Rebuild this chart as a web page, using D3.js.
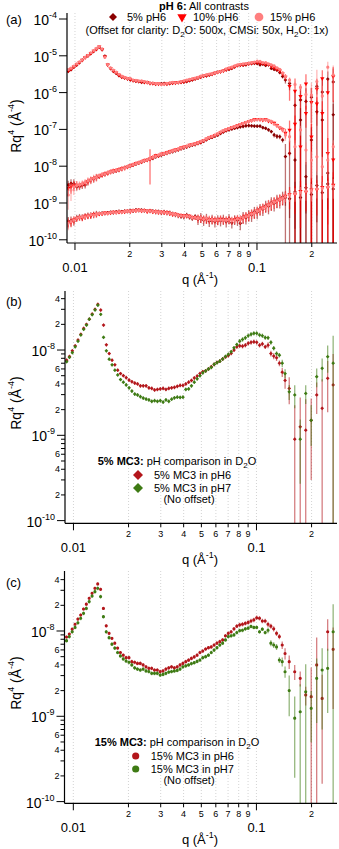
<!DOCTYPE html>
<html>
<head>
<meta charset="utf-8">
<script src="https://cdn.jsdelivr.net/npm/d3@7"></script>
<style>
  body { margin: 0; background: #fff; }
  svg { display: block; }
  text { font-family: "Liberation Sans", Arial, sans-serif; fill: #000; }
</style>
</head>
<body>
<div id="chart"></div>
<script>
// q grid (1/A), shared by every series
var q = [0.00918,0.00951,0.00986,0.01022,0.01059,0.01097,0.01137,0.01178,0.01221,0.01266,
 0.01312,0.01359,0.01409,0.01460,0.01513,0.01568,0.01625,0.01684,0.01745,0.01808,
 0.01874,0.01942,0.02013,0.02086,0.02162,0.02240,0.02322,0.02406,0.02494,0.02584,
 0.02678,0.02775,0.02876,0.02981,0.03089,0.03201,0.03318,0.03438,0.03563,0.03693,
 0.03827,0.03966,0.04110,0.04259,0.04414,0.04574,0.04741,0.04913,0.05091,0.05276,
 0.05468,0.05667,0.05873,0.06086,0.06307,0.06536,0.06774,0.07020,0.07275,0.07539,
 0.07813,0.08097,0.08391,0.08696,0.09012,0.09339,0.09678,0.10030,0.10394,0.10772,
 0.11163,0.11569,0.11989,0.12424,0.12876,0.13344,0.13829,0.14330,0.1510,0.1618,
 0.1734,0.1858,0.1991,0.2133,0.2285,0.2449,0.2624];

// D2O contrast, Rq^4 in units of 1e-9
var d2o5pH6 = [7.6,8.4,9.8,11.2,13.1,15.3,18.0,20.0,23.0,26.4,
 30.0,34.4,29.4,19.6,11.5,9.1,7.6,6.7,5.8,5.3,
 5.0,4.74,4.45,4.25,4.1,4.0,3.8,3.8,3.8,3.6,
 3.55,3.4,3.45,3.5,3.55,3.45,3.55,3.6,3.65,3.75,
 3.85,3.85,4.0,4.2,4.4,4.7,4.95,5.3,5.57,5.7,
 6.0,6.37,6.8,7.15,7.4,7.85,8.3,8.6,9.14,10.0,
 10.9,11.2,11.1,11.4,12.0,12.3,12.5,12.3,11.4,11.8,
 10.9,11.4,9.1,8.5,8.1,7.0,5.5,4.4,3.55,0.9,
 1.26,1.15,1.5,2.97,2.07,4.66,3.9];
var d2o5pH7 = [7.3,8.2,9.3,10.9,12.7,15.0,17.5,19.6,23.0,26.0,
 29.5,33.5,26.2,14.1,9.8,7.8,6.7,5.8,5.1,4.5,
 4.2,3.9,3.6,3.3,3.05,2.97,2.84,2.73,2.66,2.6,
 2.5,2.55,2.5,2.55,2.45,2.6,2.5,2.65,2.75,2.8,
 2.78,2.8,3.45,3.5,3.8,4.2,4.6,5.0,5.4,5.7,
 6.0,6.25,6.8,7.1,7.4,7.85,8.4,8.9,9.55,10.6,
 11.6,12.7,13.3,13.9,14.7,15.3,15.7,15.7,15.0,14.7,
 14.0,13.9,12.3,10.5,9.1,8.7,7.0,5.3,3.24,2.97,
 0.9,3.1,1.5,4.87,6.1,8.35,7.0];
var d2o10pH6 = [8.0,8.8,10.1,11.6,13.4,15.3,18.0,20.3,23.6,27.0,
 30.8,35.0,30.0,19.0,11.5,9.2,7.9,6.9,6.0,5.4,
 5.1,4.8,4.6,4.3,4.2,4.1,4.0,3.9,3.8,3.6,
 3.6,3.45,3.5,3.4,3.45,3.5,3.6,3.7,3.7,3.8,
 3.9,4.0,4.2,4.4,4.6,4.8,5.1,5.4,5.7,5.9,
 6.2,6.4,6.8,7.2,7.5,7.8,8.5,9.0,9.5,10.3,
 11.1,11.5,11.6,11.9,12.4,12.8,13.1,13.4,13.0,12.6,
 12.2,11.8,10.5,9.6,8.8,7.9,6.5,5.3,3.0,2.2,
 1.6,3.5,1.1,2.5,4.8,2.0,5.5];
var d2o15pH6 = [8.5,9.2,10.5,12.0,13.8,15.4,18.1,20.6,24.2,27.7,
 31.7,35.6,30.8,18.4,11.5,9.4,8.2,7.2,6.3,5.6,
 5.2,4.87,4.87,4.37,4.3,4.17,4.17,4.0,3.8,3.65,
 3.65,3.49,3.49,3.34,3.4,3.58,3.7,3.8,3.7,3.8,
 4.0,4.17,4.37,4.55,4.77,4.97,5.2,5.6,5.83,6.15,
 6.37,6.5,6.85,7.2,7.5,7.85,8.8,9.4,9.8,10.6,
 11.4,11.8,12.0,12.3,12.6,13.1,13.5,14.3,14.1,13.1,
 13.1,12.0,11.4,10.6,9.4,8.6,6.85,5.45,4.37,3.33,
 2.79,1.78,1.7,4.0,1.62,9.8,6.1];
var d2o15pH7 = [7.7,8.6,9.8,11.0,12.5,14.1,16.1,18.4,22.1,25.7,
 28.9,31.7,25.3,14.7,9.8,8.35,7.0,6.3,5.6,5.1,
 4.7,4.45,4.3,4.0,3.7,3.58,3.49,3.58,3.4,3.35,
 3.19,3.19,3.19,3.05,3.1,3.19,3.3,3.35,3.4,3.45,
 3.58,3.8,3.9,4.0,4.15,4.25,4.4,4.57,4.87,5.0,
 5.2,5.6,5.98,6.37,6.85,7.2,7.85,8.6,8.8,9.0,
 9.6,10.1,10.2,10.6,10.8,11.3,11.0,11.0,9.8,10.5,
 9.6,10.2,7.2,6.85,6.5,4.57,4.37,3.33,2.0,0.95,
 1.13,1.94,1.24,2.79,3.49,3.65,9.8];

// relative errors of the D2O series
var errD5pH6 = [.04,.04,.04,.04,.04,.04,.04,.04,.04,.04,
 .04,.04,.04,.04,.04,.04,.04,.04,.04,.04,
 .04,.05,.05,.05,.05,.05,.05,.05,.05,.05,
 .05,.05,.05,.05,.05,.05,.05,.05,.05,.05,
 .05,.05,.05,.05,.05,.05,.05,.05,.05,.05,
 .05,.05,.05,.05,.05,.05,.05,.05,.05,.05,
 .05,.06,.06,.06,.06,.06,.06,.06,.06,.06,
 .06,.08,.08,.08,.08,.08,.12,.2,.35,1.5,
 1.2,1.3,.8,.4,1.2,.6,1.3];
var errD5pH7 = [.04,.04,.04,.04,.04,.04,.04,.04,.04,.04,
 .04,.04,.04,.04,.04,.04,.04,.04,.04,.04,
 .04,.05,.05,.05,.05,.05,.05,.05,.05,.05,
 .05,.05,.05,.05,.05,.05,.05,.05,.05,.05,
 .05,.05,.05,.05,.05,.05,.05,.05,.05,.05,
 .05,.05,.05,.05,.05,.05,.05,.05,.05,.05,
 .05,.06,.06,.06,.06,.06,.06,.06,.06,.06,
 .06,.06,.06,.06,.06,.06,.1,.12,.2,.3,
 .7,.25,.5,.25,.3,.35,1.1];
var errD10pH6 = [.05,.05,.05,.05,.05,.05,.05,.05,.05,.05,
 .05,.05,.05,.05,.05,.05,.05,.05,.05,.05,
 .05,.05,.05,.05,.05,.05,.05,.05,.05,.05,
 .05,.05,.05,.05,.05,.05,.05,.05,.05,.05,
 .05,.05,.05,.05,.05,.05,.05,.05,.05,.05,
 .05,.05,.05,.05,.05,.05,.05,.05,.05,.05,
 .05,.05,.05,.05,.05,.05,.05,.05,.05,.05,
 .06,.07,.07,.07,.07,.08,.12,.2,.6,1.2,
 1.1,.8,1.4,.9,.7,1.3,.8];
var errD15pH6 = [.04,.04,.04,.04,.04,.04,.04,.04,.04,.04,
 .04,.04,.04,.04,.04,.04,.04,.04,.04,.04,
 .04,.05,.05,.05,.05,.05,.05,.05,.05,.05,
 .05,.05,.05,.05,.05,.05,.05,.05,.05,.05,
 .05,.05,.05,.05,.05,.05,.05,.05,.05,.05,
 .05,.05,.05,.05,.05,.05,.05,.05,.05,.05,
 .05,.06,.06,.06,.06,.06,.06,.06,.06,.06,
 .06,.07,.07,.07,.07,.07,.1,.15,.18,.2,
 .2,.25,1.2,1.1,.9,.4,.8];
var errD15pH7 = [.05,.05,.05,.05,.05,.05,.05,.05,.05,.05,
 .05,.05,.05,.05,.05,.05,.05,.05,.05,.05,
 .05,.05,.05,.05,.05,.05,.05,.05,.05,.05,
 .05,.05,.05,.05,.05,.05,.05,.05,.05,.05,
 .05,.05,.05,.05,.05,.05,.05,.05,.05,.05,
 .05,.05,.05,.05,.05,.05,.05,.05,.05,.05,
 .05,.05,.05,.05,.05,.05,.05,.05,.05,.05,
 .05,.08,.08,.08,.08,.08,.12,.15,.5,.8,
 1.1,1.1,.6,.7,.8,.7,1.1];

// CMSi contrast, pH6, units of 1e-10 (before the 50x offset)
var cmsi5 = [0.62,0.68,0.68,0.55,0.56,0.6,0.62,0.75,0.84,0.9,
 1.0,1.04,1.15,1.2,1.3,1.38,1.42,1.5,1.58,1.7,
 1.82,1.94,2.0,2.15,2.3,2.45,2.6,2.8,3.0,3.1,
 3.3,3.6,3.8,4.0,4.3,4.5,4.8,5.0,5.3,5.6,
 6.0,6.3,6.7,7.1,7.5,7.8,8.3,8.8,9.5,10.5,
 11.5,12.2,13.2,14.0,15.5,17.0,18.5,19.5,20.5,21.5,
 22.5,23.5,24,25,25.5,25,24.7,24.5,24.7,22.5,
 21.4,19.5,17.4,14.1,13,12.7,10.3,3.64,4.48,2.94,
 36,1.04,10.3,60,36,1.3,50];
var cmsi10 = [0.5,0.55,0.6,0.62,0.6,0.65,0.7,0.78,0.85,0.92,
 1.0,1.08,1.15,1.25,1.3,1.42,1.5,1.55,1.62,1.72,
 1.8,1.9,2.1,2.2,2.4,2.5,2.65,2.9,2.95,3.2,
 3.5,3.9,3.9,4.3,4.4,4.7,5.0,5.3,5.6,5.8,
 6.3,6.7,7.0,7.5,7.9,8.2,8.7,9.2,10.0,11.0,
 12.0,12.8,13.8,15.0,16.8,18.2,19.5,20.8,22.5,23.5,
 25.5,27,29,31,33,35,37,38,37,36,
 37,34,32,30,26,22,20,16,19.3,28,
 6.8,55,12.7,100,55,4.5,3.0];
var cmsi15 = [0.33,0.45,0.55,0.6,0.62,0.66,0.72,0.8,0.86,0.94,
 1.0,1.1,1.2,1.22,1.35,1.4,1.45,1.55,1.6,1.7,
 1.8,1.95,2.05,2.2,2.35,2.5,2.7,2.85,3.0,3.2,
 3.5,3.7,4.0,4.2,4.4,4.6,4.9,5.2,5.5,5.9,
 6.2,6.6,7.0,7.4,7.8,8.1,8.6,9.4,10.0,11.2,
 12.2,13.0,14.1,15.2,17.0,18.5,19.8,21.0,22.5,23.7,
 25.0,27.5,29,31,33,34.5,36,37,37.6,37,
 36,35,33,28,25,22.8,19.3,14,12.7,6.8,
 19.3,5.5,2.94,3.6,1.94,2.94,6.8];
var errC5 = [.3,.3,.3,.2,.2,.2,.2,.2,.2,.2,
 .2,.12,.12,.12,.12,.12,.12,.12,.12,.12,
 .12,.12,.12,.12,.12,.12,.12,.12,.12,.12,
 .12,.12,.12,.12,.12,.12,.12,.12,.12,.12,
 .12,.12,.12,.12,.12,.12,.1,.1,.1,.1,
 .1,.1,.1,.1,.1,.1,.1,.1,.1,.1,
 .1,.1,.1,.1,.1,.1,.1,.1,.1,.1,
 .1,.1,.1,.15,.15,.15,.15,1.2,1.2,1.3,
 1.1,1.5,1.2,1.0,.9,1.5,1.0];
var errC10 = [.35,.35,.3,.25,.2,.2,.2,.2,.2,.2,
 .2,.15,.15,.15,.15,.15,.15,.15,.15,.15,
 .15,.12,.12,.12,.12,.12,.12,.12,.12,.8,
 .15,.12,.12,.12,.12,.12,.12,.12,.12,.12,
 .12,.1,.1,.1,.1,.1,.1,.1,.1,.1,
 .1,.1,.1,.1,.1,.1,.1,.1,.1,.1,
 .1,.08,.08,.08,.08,.08,.08,.08,.08,.08,
 .08,.1,.1,.1,.12,.12,.15,.3,.8,.7,
 1.0,.6,1.2,.5,1.1,1.6,1.8];
var errC15 = [.6,.5,.4,.3,.25,.25,.25,.25,.25,.25,
 .25,.15,.15,.15,.15,.15,.15,.15,.15,.15,
 .15,.12,.12,.12,.12,.12,.12,.12,.12,.12,
 .12,.12,.12,.12,.12,.12,.12,.12,.12,.12,
 .12,.1,.1,.1,.1,.1,.1,.1,.1,.1,
 .1,.1,.1,.1,.1,.1,.1,.1,.1,.1,
 .1,.08,.08,.08,.08,.08,.08,.08,.08,.08,
 .08,.1,.1,.1,.1,.1,.15,.3,.3,.5,
 .3,.6,.7,.6,.8,.7,.5];

// H2O contrast, pH6, units of 1e-10 (no offset)
var h2o5 = [3.2,3.3,3.2,4.0,4.2,4.1,4.3,4.6,4.7,4.8,
 5.1,5.2,5.3,5.2,5.4,5.6,5.5,5.7,5.9,5.8,
 6.0,5.9,6.2,6.1,6.5,6.3,6.4,6.2,6.1,6.0,
 6.0,5.7,5.8,5.5,5.7,5.4,5.4,5.1,4.8,4.5,
 4.3,4.2,4.7,4.1,3.8,4.3,3.6,4.1,3.4,3.9,
 3.2,3.7,3.1,3.6,3.3,3.7,3.1,3.8,2.9,3.6,
 3.4,2.8,4.2,4.0,4.8,4.7,5.8,5.6,7.0,6.8,
 8.5,8.2,10.2,9.8,12.0,11.8,14.5,14,13,20,
 14,26,17,30,19,33,24];
var h2o10 = [2.9,3.0,3.5,3.7,4.0,3.9,4.4,4.4,4.5,4.9,
 4.9,5.0,5.1,5.4,5.3,5.4,5.7,5.6,5.7,5.7,
 5.8,6.1,5.9,6.3,6.2,6.5,6.1,6.4,5.9,6.2,
 5.8,5.9,5.6,5.7,5.5,5.6,5.2,4.9,5.0,4.7,
 4.6,4.5,4.4,4.4,4.1,4.0,3.9,3.8,3.7,3.6,
 3.6,3.5,3.5,3.3,3.7,3.4,3.5,3.5,3.4,3.5,
 3.8,3.6,3.9,4.4,4.5,5.2,5.3,6.2,6.5,7.4,
 7.8,9.0,9.4,10.8,11.2,12.8,13.2,15.5,17,17,
 21,20,23,23,27,26,31];
var h2o15 = [2.8,3.1,3.4,3.9,4.1,4.2,4.2,4.5,4.8,4.7,
 5.0,5.2,5.2,5.3,5.2,5.5,5.6,5.5,5.8,5.6,
 5.9,6.0,6.0,6.2,6.3,6.3,6.2,6.2,6.1,6.0,
 5.9,5.8,5.7,5.6,5.6,5.4,5.3,5.1,4.9,4.6,
 4.5,4.4,4.5,4.3,4.0,4.1,3.8,4.0,3.6,3.9,
 3.5,3.6,3.4,3.5,3.5,3.5,3.4,3.6,3.3,3.4,
 3.7,3.5,4.0,4.3,4.6,5.0,5.4,6.0,6.6,7.2,
 8.0,8.8,9.6,10.5,11.5,12.5,13.5,15,16.5,18,
 19.5,21,22,24,25,27,29];
var errH5 = [.3,.3,.25,.2,.2,.2,.2,.2,.2,.2,
 .2,.12,.12,.12,.12,.12,.12,.12,.12,.12,
 .12,.12,.12,.12,.12,.12,.12,.12,.12,.12,
 .12,.15,.15,.15,.15,.15,.15,.15,.15,.15,
 .15,.15,.15,.15,.15,.15,.3,.3,.3,.3,
 .3,.3,.3,.3,.3,.3,.3,.3,.3,.3,
 .3,.35,.35,.35,.35,.35,.35,.35,.35,.35,
 .35,.4,.4,.4,.4,.4,.4,.4,.7,.9,
 1.1,.8,1.2,.9,1.0,.8,1.1];
var errH10 = [.3,.25,.25,.18,.18,.18,.18,.18,.18,.18,
 .18,.12,.12,.12,.12,.12,.12,.12,.12,.12,
 .12,.12,.12,.12,.12,.12,.12,.12,.12,.12,
 .12,.14,.14,.14,.14,.14,.14,.14,.14,.14,
 .14,.14,.14,.14,.14,.14,.25,.25,.25,.25,
 .25,.25,.25,.25,.25,.25,.25,.25,.25,.25,
 .25,.3,.3,.3,.3,.3,.3,.3,.3,.3,
 .3,.35,.35,.35,.35,.35,.35,.35,.6,.7,
 .9,.7,1.1,.8,1.0,.9,1.2];
var errH15 = [.35,.3,.25,.15,.15,.15,.15,.15,.15,.15,
 .15,.1,.1,.1,.1,.1,.1,.1,.1,.1,
 .1,.1,.1,.1,.1,.1,.1,.1,.1,.1,
 .1,.12,.12,.12,.12,.12,.12,.12,.12,.12,
 .12,.12,.12,.12,.12,.12,.2,.2,.2,.2,
 .2,.2,.2,.2,.2,.2,.2,.2,.2,.2,
 .2,.25,.25,.25,.25,.25,.25,.25,.25,.25,
 .25,.3,.3,.3,.3,.3,.3,.3,.35,.4,
 .4,.45,.5,.45,.5,.5,.55];

// offsets used in panel (a)
var offsetD2O = 500, offsetCMSi = 50, offsetH2O = 1;

// tick labels
var xMajorTicks = [0.01, 0.1];
var xMajorLabels = ["0.01", "0.1"];
var xMinorTicks = [0.02, 0.03, 0.04, 0.05, 0.06, 0.07, 0.08, 0.09, 0.2];
var xMinorLabels = ["2", "3", "4", "5", "6", "7", "8", "9", "2"];
var yMajorA = [1e-4, 1e-5, 1e-6, 1e-7, 1e-8, 1e-9, 1e-10];
var yMajorALabels = ["-4", "-5", "-6", "-7", "-8", "-9", "-10"];
var yMajorBC = [1e-8, 1e-9, 1e-10];
var yMajorBCLabels = ["-8", "-9", "-10"];
var yMinorBC = [2e-10,3e-10,4e-10,5e-10,6e-10,7e-10,8e-10,9e-10,
                2e-9,3e-9,4e-9,5e-9,6e-9,7e-9,8e-9,9e-9, 2e-8,3e-8,4e-8];
var yMinorBCLabels = ["2","","4","","6","","","", "2","","4","","6","","","", "2","","4"];

var W = 339, H = 849;
var svg = d3.select('#chart').append('svg').attr('width', W).attr('height', H);
var defs = svg.append('defs');

var diamond = d3.symbolSquare;   // drawn rotated 45 degrees
var dark = '#8b0000', red = '#ff0000', pink = '#ff7f7f';
var red2 = '#b3161b', green2 = '#3e7b14';

var panels = [
  { id: 'a', left: 67, right: 337, top: 13, bottom: 243,
    xDom: [0.00904, 0.2752], yDom: [8.18e-11, 1.456e-4], label: '(a)', labelY: 24, titleY: 126 },
  { id: 'b', left: 65, right: 337, top: 291, bottom: 523.3,
    xDom: [0.00899, 0.2754], yDom: [9.3e-11, 4.92e-8], label: '(b)', labelY: 306, titleY: 403 },
  { id: 'c', left: 64.5, right: 337, top: 571, bottom: 803.3,
    xDom: [0.00895, 0.2754], yDom: [9.55e-11, 5.05e-8], label: '(c)', labelY: 587, titleY: 683 }
];

function drawSeries(g, x, y, s) {
  var lo = y.domain()[0];
  var pts = q.map(function(qq, i) {
    var v = s.values[i] * s.unit * s.offset;
    return { q: qq, v: v, e: v * s.err[i] };
  });
  g.append('g').selectAll('line').data(pts).join('line')
    .attr('x1', function(d) { return x(d.q); })
    .attr('x2', function(d) { return x(d.q); })
    .attr('y1', function(d) { return y(d.v + d.e); })
    .attr('y2', function(d) { return d.v - d.e > lo ? y(d.v - d.e) : y(lo) + 5; })
    .attr('stroke', s.color).attr('stroke-opacity', 0.55).attr('stroke-width', 1.3);
  g.append('g').selectAll('path').data(pts).join('path')
    .attr('d', d3.symbol().type(s.shape).size(s.size))
    .attr('transform', function(d) { return 'translate(' + x(d.q) + ',' + y(d.v) + ') rotate(' + s.rot + ')'; })
    .attr('fill', s.color);
}

function powLabel(sel, exp, bigSize) {
  sel.append('tspan').attr('font-size', bigSize).text('10');
  sel.append('tspan').attr('font-size', 9).attr('dy', -7).text(exp);
}

function drawPanel(p, series, yMaj, yMajLab, yMin, yMinLab) {
  var x = d3.scaleLog().domain(p.xDom).range([p.left, p.right]);
  var y = d3.scaleLog().domain(p.yDom).range([p.bottom, p.top]);
  var g = svg.append('g');

  // dotted grid at x ticks
  var gridTicks = xMajorTicks.concat(xMinorTicks);
  g.append('g').selectAll('line').data(gridTicks).join('line')
    .attr('x1', function(d) { return x(d); }).attr('x2', function(d) { return x(d); })
    .attr('y1', p.top).attr('y2', p.bottom)
    .attr('stroke', '#c8c8c8').attr('stroke-width', 0.8).attr('stroke-dasharray', '1,2');

  defs.append('clipPath').attr('id', 'clip-' + p.id).append('rect')
    .attr('x', p.left).attr('y', p.top).attr('width', p.right - p.left).attr('height', p.bottom - p.top);
  var plot = g.append('g').attr('clip-path', 'url(#clip-' + p.id + ')');
  series.forEach(function(s) { drawSeries(plot, x, y, s); });

  // axes lines
  g.append('line').attr('x1', p.left).attr('x2', p.left).attr('y1', p.top).attr('y2', p.bottom)
    .attr('stroke', '#000').attr('stroke-width', 1.2);
  g.append('line').attr('x1', p.left).attr('x2', p.right).attr('y1', p.bottom).attr('y2', p.bottom)
    .attr('stroke', '#000').attr('stroke-width', 1.2);

  // x ticks
  xMajorTicks.forEach(function(t, i) {
    g.append('line').attr('x1', x(t)).attr('x2', x(t)).attr('y1', p.bottom).attr('y2', p.bottom + 7)
      .attr('stroke', '#000').attr('stroke-width', 1);
    g.append('text').attr('x', x(t)).attr('y', p.bottom + 28.5).attr('text-anchor', 'middle')
      .attr('font-size', 13).text(xMajorLabels[i]);
  });
  xMinorTicks.forEach(function(t, i) {
    g.append('line').attr('x1', x(t)).attr('x2', x(t)).attr('y1', p.bottom).attr('y2', p.bottom + 4)
      .attr('stroke', '#000').attr('stroke-width', 1);
    g.append('text').attr('x', x(t)).attr('y', p.bottom + 14).attr('text-anchor', 'middle')
      .attr('font-size', 9).text(xMinorLabels[i]);
  });
  var xt = g.append('text').attr('x', 200).attr('y', p.bottom + 41).attr('text-anchor', 'middle')
    .attr('font-size', 13);
  xt.append('tspan').text('q (\u00c5');
  xt.append('tspan').attr('font-size', 9).attr('dy', -6).text('-1');
  xt.append('tspan').attr('dy', 6).text(')');

  // y ticks
  yMaj.forEach(function(t, i) {
    g.append('line').attr('x1', p.left - 8).attr('x2', p.left).attr('y1', y(t)).attr('y2', y(t))
      .attr('stroke', '#000').attr('stroke-width', 1);
    var tx = g.append('text').attr('x', p.left - 10).attr('y', y(t) + 6).attr('text-anchor', 'end');
    powLabel(tx, yMajLab[i], 14);
  });
  if (yMin) {
    yMin.forEach(function(t, i) {
      g.append('line').attr('x1', p.left - 4).attr('x2', p.left).attr('y1', y(t)).attr('y2', y(t))
        .attr('stroke', '#000').attr('stroke-width', 1);
      if (yMinLab[i]) {
        g.append('text').attr('x', p.left - 5).attr('y', y(t) + 3).attr('text-anchor', 'end')
          .attr('font-size', 9).text(yMinLab[i]);
      }
    });
  }

  // y title
  var yt = g.append('text').attr('transform', 'translate(21,' + p.titleY + ') rotate(-90)')
    .attr('text-anchor', 'middle').attr('font-size', 14);
  yt.append('tspan').text('Rq');
  yt.append('tspan').attr('font-size', 9).attr('dy', -7).text('4');
  yt.append('tspan').attr('dy', 7).text(' (\u00c5');
  yt.append('tspan').attr('font-size', 9).attr('dy', -7).text('-4');
  yt.append('tspan').attr('dy', 7).text(')');

  g.append('text').attr('x', 6).attr('y', p.labelY).attr('font-size', 13).text(p.label);
  return g;
}

// ---- panel (a)
var seriesA = [
  { values: d2o5pH6, err: errD5pH6, unit: 1e-9, offset: offsetD2O, color: dark, shape: diamond, rot: 45, size: 7 },
  { values: d2o10pH6, err: errD10pH6, unit: 1e-9, offset: offsetD2O, color: red, shape: d3.symbolTriangle, rot: 180, size: 8 },
  { values: d2o15pH6, err: errD15pH6, unit: 1e-9, offset: offsetD2O, color: pink, shape: d3.symbolCircle, rot: 0, size: 8 },
  { values: cmsi5, err: errC5, unit: 1e-10, offset: offsetCMSi, color: dark, shape: diamond, rot: 45, size: 7 },
  { values: cmsi10, err: errC10, unit: 1e-10, offset: offsetCMSi, color: red, shape: d3.symbolTriangle, rot: 180, size: 8 },
  { values: cmsi15, err: errC15, unit: 1e-10, offset: offsetCMSi, color: pink, shape: d3.symbolCircle, rot: 0, size: 8 },
  { values: h2o5, err: errH5, unit: 1e-10, offset: offsetH2O, color: dark, shape: diamond, rot: 45, size: 7 },
  { values: h2o10, err: errH10, unit: 1e-10, offset: offsetH2O, color: red, shape: d3.symbolTriangle, rot: 180, size: 8 },
  { values: h2o15, err: errH15, unit: 1e-10, offset: offsetH2O, color: pink, shape: d3.symbolCircle, rot: 0, size: 8 }
];
var gA = drawPanel(panels[0], seriesA, yMajorA, yMajorALabels, null, null);

var tA = gA.append('text').attr('x', 204).attr('y', 9.5).attr('text-anchor', 'middle').attr('font-size', 11);
tA.append('tspan').attr('font-weight', 'bold').text('pH 6:');
tA.append('tspan').text(' All contrasts');
var legA = [
  { label: '5% pH6', color: dark, shape: diamond, rot: 45, size: 32, sx: 113, tx: 127 },
  { label: '10% pH6', color: red, shape: d3.symbolTriangle, rot: 180, size: 38, sx: 182, tx: 193 },
  { label: '15% pH6', color: pink, shape: d3.symbolCircle, rot: 0, size: 60, sx: 259, tx: 270 }
];
legA.forEach(function(l) {
  gA.append('path').attr('d', d3.symbol().type(l.shape).size(l.size))
    .attr('transform', 'translate(' + l.sx + ',17) rotate(' + l.rot + ')').attr('fill', l.color);
  gA.append('text').attr('x', l.tx).attr('y', 21).attr('font-size', 11).text(l.label);
});
var oA = gA.append('text').attr('x', 207).attr('y', 34).attr('text-anchor', 'middle').attr('font-size', 11);
oA.append('tspan').text('(Offset for clarity: D');
oA.append('tspan').attr('font-size', 8).attr('dy', 3).text('2');
oA.append('tspan').attr('dy', -3).text('O: 500x, CMSi: 50x, H');
oA.append('tspan').attr('font-size', 8).attr('dy', 3).text('2');
oA.append('tspan').attr('dy', -3).text('O: 1x)');

// ---- panels (b) and (c)
function pairLegend(g, p, bold, names, shape, rot, size, yT, yS, sx, tx) {
  var t = g.append('text').attr('x', 177).attr('y', yT).attr('text-anchor', 'middle').attr('font-size', 11);
  t.append('tspan').attr('font-weight', 'bold').text(bold);
  t.append('tspan').text(' pH comparison in D');
  t.append('tspan').attr('font-size', 8).attr('dy', 3).text('2');
  t.append('tspan').attr('dy', -3).text('O');
  [red2, green2].forEach(function(c, i) {
    g.append('path').attr('d', d3.symbol().type(shape).size(size))
      .attr('transform', 'translate(' + sx + ',' + (yS + i * 13) + ') rotate(' + rot + ')').attr('fill', c);
    g.append('text').attr('x', tx).attr('y', yS + 3.5 + i * 13).attr('font-size', 11).text(names[i]);
  });
  g.append('text').attr('x', 189).attr('y', yS + 28).attr('text-anchor', 'middle').attr('font-size', 11).text('(No offset)');
}

var seriesB = [
  { values: d2o5pH6, err: errD5pH6, unit: 1e-9, offset: 1, color: red2, shape: diamond, rot: 45, size: 7 },
  { values: d2o5pH7, err: errD5pH7, unit: 1e-9, offset: 1, color: green2, shape: diamond, rot: 45, size: 7 }
];
var gB = drawPanel(panels[1], seriesB, yMajorBC, yMajorBCLabels, yMinorBC, yMinorBCLabels);
pairLegend(gB, panels[1], '5% MC3:', ['5% MC3 in pH6', '5% MC3 in pH7'], diamond, 45, 50, 464.5, 475, 138, 154);

var seriesC = [
  { values: d2o15pH6, err: errD15pH6, unit: 1e-9, offset: 1, color: red2, shape: d3.symbolCircle, rot: 0, size: 8 },
  { values: d2o15pH7, err: errD15pH7, unit: 1e-9, offset: 1, color: green2, shape: d3.symbolCircle, rot: 0, size: 8 }
];
var gC = drawPanel(panels[2], seriesC, yMajorBC, yMajorBCLabels, yMinorBC, yMinorBCLabels);
pairLegend(gC, panels[2], '15% MC3:', ['15% MC3 in pH6', '15% MC3 in pH7'], d3.symbolCircle, 0, 40, 745.5, 756, 135.7, 150.7);
</script>
</body>
</html>
